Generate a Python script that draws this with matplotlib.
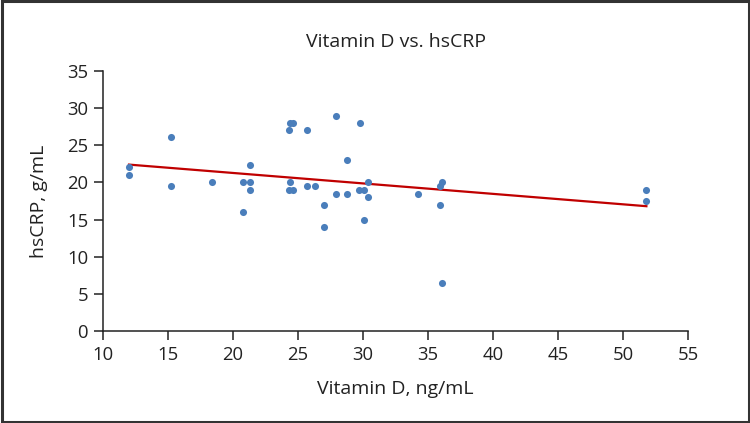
import matplotlib
matplotlib.use('Agg')
import matplotlib.pyplot as plt
from matplotlib.patches import Rectangle

plt.rcParams.update({'font.family': ['Open Sans', 'DejaVu Sans']})

# Vitamin D (ng/mL) vs hsCRP (g/mL)
vit_d = [12.0, 12.0, 15.2, 15.2, 18.4, 20.8, 20.8, 21.3, 21.3, 21.3,
         24.3, 24.4, 24.6, 24.4, 24.3, 24.6, 25.7, 25.7, 26.3, 27.0,
         27.0, 27.9, 27.9, 28.8, 28.8, 29.8, 29.7, 30.1, 30.1, 30.4,
         30.4, 34.2, 35.9, 36.05, 35.9, 36.1, 51.8, 51.8]
hscrp = [22.1, 21.0, 26.1, 19.5, 20.0, 20.0, 16.0, 22.4, 20.0, 19.0,
         27.0, 28.0, 28.0, 20.0, 19.0, 19.0, 27.0, 19.5, 19.5, 17.0,
         14.0, 29.0, 18.5, 23.0, 18.5, 28.0, 19.0, 19.0, 15.0, 20.0,
         18.0, 18.5, 19.5, 20.0, 17.0, 6.5, 19.0, 17.5]

# trend line end points
trend_x = [12.0, 51.8]
trend_y = [22.4, 16.8]

xticks = [10, 15, 20, 25, 30, 35, 40, 45, 50, 55]
yticks = [0, 5, 10, 15, 20, 25, 30, 35]

TXT = '#222222'
W, H = 750, 423
fig = plt.figure(figsize=(W / 100, H / 100), dpi=100)
ax = fig.add_axes([103 / W, 1 - 331 / H, 585 / W, 260 / H])

ax.scatter(vit_d, hscrp, s=26, color='#4a7ebb', zorder=3, linewidths=0)
ax.plot(trend_x, trend_y, color='#c00000', lw=1.6, zorder=2)

ax.set_xlim(10, 55)
ax.set_ylim(0, 35)
ax.set_xticks(xticks)
ax.set_yticks(yticks)
for s in ('top', 'right'):
    ax.spines[s].set_visible(False)
for s in ('left', 'bottom'):
    ax.spines[s].set_linewidth(1.1)
    ax.spines[s].set_color(TXT)
ax.tick_params(direction='out', length=6.2, width=1.1, color=TXT,
               labelsize=13.3, labelcolor=TXT, pad=4.5)

# title and axis labels placed in figure pixels
fig.text(395.5 / W, 1 - 46.7 / H, 'Vitamin D vs. hsCRP', fontsize=14,
         color=TXT, ha='center', va='baseline')
fig.text(395.5 / W, 1 - 394.3 / H, 'Vitamin D, ng/mL', fontsize=14,
         color=TXT, ha='center', va='baseline')
fig.text(39 / W, 1 - 201 / H, 'hsCRP, g/mL', fontsize=14, color=TXT,
         rotation=90, ha='center', va='center')

fig.patches.append(Rectangle((0.002, 0.003), 0.996, 0.994, transform=fig.transFigure,
                             fill=False, ec='#333333', lw=2.2))

plt.savefig('out.png', dpi=100)
plt.close()
